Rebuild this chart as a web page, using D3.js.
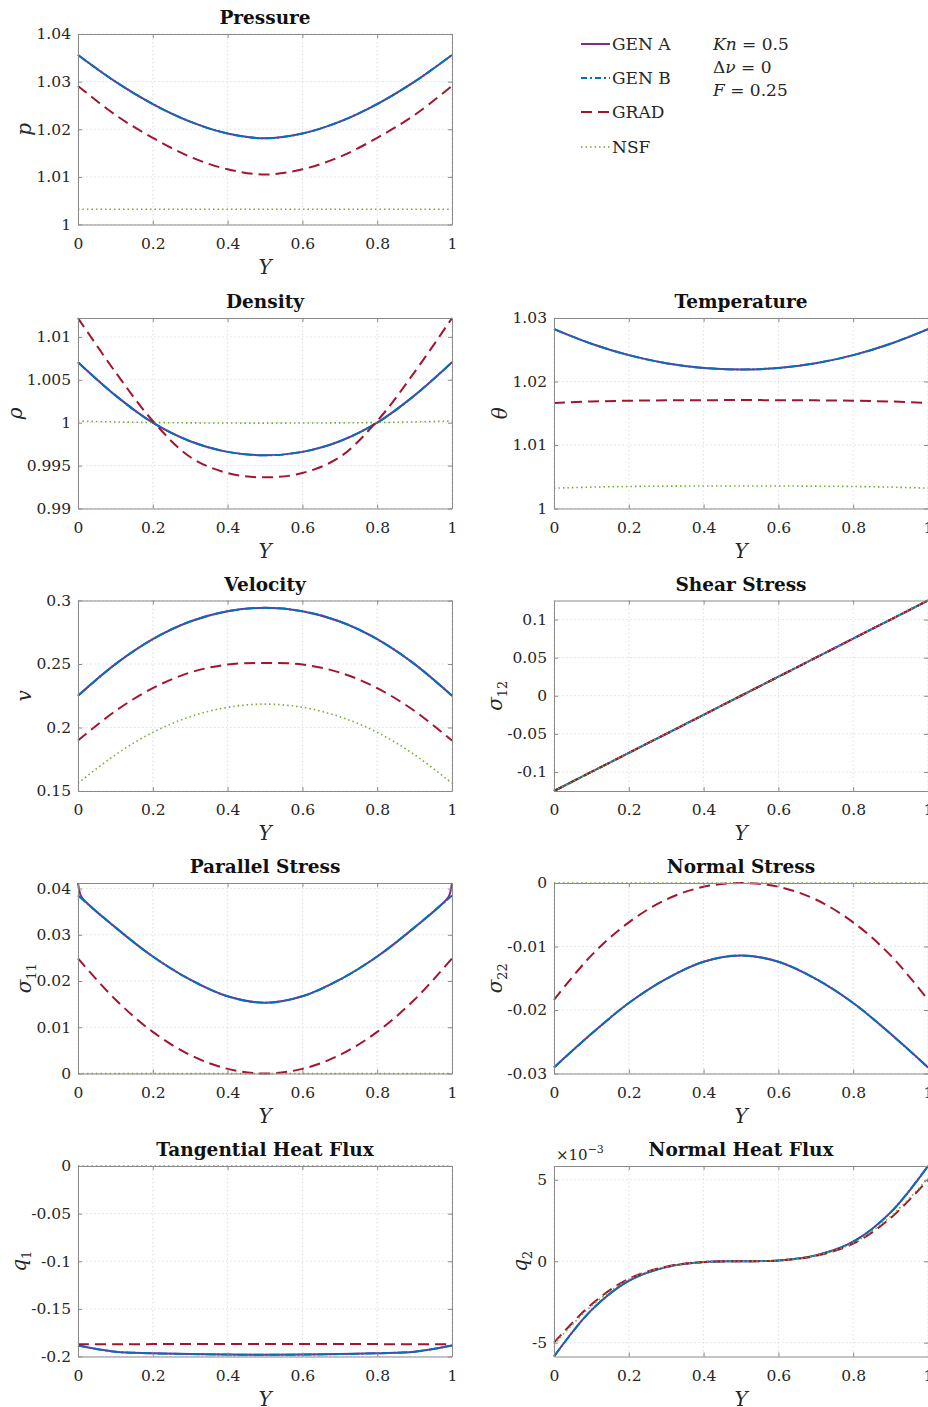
<!DOCTYPE html>
<html><head><meta charset="utf-8">
<script src="https://cdn.jsdelivr.net/npm/d3@7"></script>
<style>body{margin:0;background:#fff} svg{display:block}</style>
</head><body><svg id="c" width="928" height="1407"></svg>
<script>
// ---------------- DATA ----------------
const Ygrid = [0,0.1,0.2,0.3,0.4,0.5,0.6,0.7,0.8,0.9,1];
const YwallGrid = [0,0.004,0.01,0.1,0.2,0.3,0.4,0.5,0.6,0.7,0.8,0.9,0.99,0.996,1];
const xTicks = [0,0.2,0.4,0.6,0.8,1];
const xTickLabels = ["0","0.2","0.4","0.6","0.8","1"];
const seriesNames = ["GEN A","GEN B","GRAD","NSF"];

// Pressure
const pressureGenA = [1.0356,1.0300,1.0253,1.0216,1.0191,1.0181,1.0191,1.0216,1.0253,1.0300,1.0356];
const pressureGenB = [1.0356,1.0300,1.0253,1.0216,1.0191,1.0181,1.0191,1.0216,1.0253,1.0300,1.0356];
const pressureGrad = [1.0291,1.0230,1.0182,1.0142,1.0116,1.0105,1.0116,1.0142,1.0182,1.0230,1.0291];
const pressureNsf  = [1.0032,1.0032,1.0032,1.0032,1.0032,1.0032,1.0032,1.0032,1.0032,1.0032,1.0032];
const pressureTicks = [1,1.01,1.02,1.03,1.04];
const pressureTickLabels = ["1","1.01","1.02","1.03","1.04"];

// Density
const densityGenA = [1.00704,1.00318,1.00000,0.99784,0.99660,0.99620,0.99660,0.99784,1.00000,1.00318,1.00704];
const densityGenB = [1.00704,1.00318,1.00000,0.99784,0.99660,0.99620,0.99660,0.99784,1.00000,1.00318,1.00704];
const densityGrad = [1.01219,1.00590,1.00020,0.99600,0.99413,0.99363,0.99413,0.99600,1.00020,1.00590,1.01219];
const densityNsf  = [1.00020,1.00009,1.00002,0.99998,0.99996,0.99995,0.99996,0.99998,1.00002,1.00009,1.00020];
const densityTicks = [0.99,0.995,1,1.005,1.01];
const densityTickLabels = ["0.99","0.995","1","1.005","1.01"];

// Temperature
const temperatureGenA = [1.02826,1.02595,1.02415,1.02288,1.02213,1.02190,1.02213,1.02288,1.02415,1.02595,1.02826];
const temperatureGenB = [1.02826,1.02595,1.02415,1.02288,1.02213,1.02190,1.02213,1.02288,1.02415,1.02595,1.02826];
const temperatureGrad = [1.01663,1.01685,1.01697,1.01703,1.01706,1.01707,1.01706,1.01703,1.01697,1.01685,1.01663];
const temperatureNsf  = [1.00320,1.00337,1.00347,1.00352,1.00354,1.00355,1.00354,1.00352,1.00347,1.00337,1.00320];
const temperatureTicks = [1,1.01,1.02,1.03];
const temperatureTickLabels = ["1","1.01","1.02","1.03"];

// Velocity
const velocityGenA = [0.2250,0.2499,0.2696,0.2835,0.2916,0.2942,0.2916,0.2835,0.2696,0.2499,0.2250];
const velocityGenB = [0.2250,0.2499,0.2696,0.2835,0.2916,0.2942,0.2916,0.2835,0.2696,0.2499,0.2250];
const velocityGrad = [0.1897,0.2130,0.2310,0.2433,0.2496,0.2508,0.2496,0.2433,0.2310,0.2130,0.1897];
const velocityNsf  = [0.1561,0.1785,0.1962,0.2085,0.2159,0.2184,0.2159,0.2085,0.1962,0.1785,0.1561];
const velocityTicks = [0.15,0.2,0.25,0.3];
const velocityTickLabels = ["0.15","0.2","0.25","0.3"];

// Shear stress
const shearGenA = [-0.125,-0.1,-0.075,-0.05,-0.025,0,0.025,0.05,0.075,0.1,0.125];
const shearGenB = [-0.125,-0.1,-0.075,-0.05,-0.025,0,0.025,0.05,0.075,0.1,0.125];
const shearGrad = [-0.125,-0.1,-0.075,-0.05,-0.025,0,0.025,0.05,0.075,0.1,0.125];
const shearNsf  = [-0.125,-0.1,-0.075,-0.05,-0.025,0,0.025,0.05,0.075,0.1,0.125];
const shearTicks = [-0.1,-0.05,0,0.05,0.1];
const shearTickLabels = ["-0.1","-0.05","0","0.05","0.1"];

// Parallel stress (GEN A sampled on YwallGrid)
const parallelGenA = [0.0412,0.0394,0.0381,0.0316,0.0253,0.0203,0.0167,0.0153,0.0167,0.0203,0.0253,0.0316,0.0381,0.0394,0.0412];
const parallelGenB = [0.0385,0.0316,0.0253,0.0203,0.0167,0.0153,0.0167,0.0203,0.0253,0.0316,0.0385];
const parallelGrad = [0.0249,0.0160,0.0090,0.0040,0.0010,0.0000,0.0010,0.0040,0.0090,0.0160,0.0249];
const parallelNsf  = [0,0,0,0,0,0,0,0,0,0,0];
const parallelTicks = [0,0.01,0.02,0.03,0.04];
const parallelTickLabels = ["0","0.01","0.02","0.03","0.04"];

// Normal stress
const normalGenA = [-0.02905,-0.02375,-0.0189,-0.0151,-0.0124,-0.01142,-0.0124,-0.0151,-0.0189,-0.02375,-0.02905];
const normalGenB = [-0.02905,-0.02375,-0.0189,-0.0151,-0.0124,-0.01142,-0.0124,-0.0151,-0.0189,-0.02375,-0.02905];
const normalGrad = [-0.0184,-0.0114,-0.0062,-0.0026,-0.0006,0,-0.0006,-0.0026,-0.0062,-0.0114,-0.0184];
const normalNsf  = [0,0,0,0,0,0,0,0,0,0,0];
const normalTicks = [-0.03,-0.02,-0.01,0];
const normalTickLabels = ["-0.03","-0.02","-0.01","0"];

// Tangential heat flux
const tangHeatGenA = [-0.1885,-0.1950,-0.1966,-0.1975,-0.1980,-0.1981,-0.1980,-0.1975,-0.1966,-0.1950,-0.1885];
const tangHeatGenB = [-0.1885,-0.1950,-0.1966,-0.1975,-0.1980,-0.1981,-0.1980,-0.1975,-0.1966,-0.1950,-0.1885];
const tangHeatGrad = [-0.1872,-0.1871,-0.1870,-0.1870,-0.1869,-0.1869,-0.1869,-0.1870,-0.1870,-0.1871,-0.1872];
const tangHeatNsf  = [0,0,0,0,0,0,0,0,0,0,0];
const tangHeatTicks = [-0.2,-0.15,-0.1,-0.05,0];
const tangHeatTickLabels = ["-0.2","-0.15","-0.1","-0.05","0"];

// Normal heat flux
const normHeatGenA = [-0.00585,-0.0030,-0.0012,-0.00036,-0.00005,0,0.00005,0.00036,0.0012,0.0030,0.00585];
const normHeatGenB = [-0.00585,-0.0030,-0.0012,-0.00036,-0.00005,0,0.00005,0.00036,0.0012,0.0030,0.00585];
const normHeatGrad = [-0.0050,-0.00265,-0.00108,-0.00033,-0.000045,0,0.000045,0.00033,0.00108,0.00265,0.0050];
const normHeatNsf  = [-0.0051,-0.00275,-0.00112,-0.00034,-0.000046,0,0.000046,0.00034,0.00112,0.00275,0.0051];
const normHeatTicks = [-0.005,0,0.005];
const normHeatTickLabels = ["-5","0","5"];

// ---------------- LAYOUT / STYLE ----------------
const FONT = "'DejaVu Serif', serif";
const TXT = "#262626";
const colX = [[78,452],[554,928]];
const rowTop = [34,318,600.5,883,1166];
const plotH = 190.5;
const styles = [
  {color:"#7E2F8E", dash:null, w:2},
  {color:"#0072BD", dash:"10,2,2,2", w:2},
  {color:"#A2142F", dash:"11,6", w:2},
  {color:"#77AC30", dash:"1.5,3", w:1.6}
];

const panels = [
  {title:"Pressure", col:0,row:0, ylab:[["p","i"]], dom:[1,1.04], ticks:pressureTicks, tl:pressureTickLabels,
    series:[[Ygrid,pressureGenA],[Ygrid,pressureGenB],[Ygrid,pressureGrad],[Ygrid,pressureNsf]]},
  {title:"Density", col:0,row:1, ylab:[["ρ","i"]], dom:[0.99,1.0122], ticks:densityTicks, tl:densityTickLabels,
    series:[[Ygrid,densityGenA],[Ygrid,densityGenB],[Ygrid,densityGrad],[Ygrid,densityNsf]]},
  {title:"Temperature", col:1,row:1, ylab:[["θ","i"]], dom:[1,1.03], ticks:temperatureTicks, tl:temperatureTickLabels,
    series:[[Ygrid,temperatureGenA],[Ygrid,temperatureGenB],[Ygrid,temperatureGrad],[Ygrid,temperatureNsf]]},
  {title:"Velocity", col:0,row:2, ylab:[["v","i"]], dom:[0.15,0.3], ticks:velocityTicks, tl:velocityTickLabels,
    series:[[Ygrid,velocityGenA],[Ygrid,velocityGenB],[Ygrid,velocityGrad],[Ygrid,velocityNsf]]},
  {title:"Shear Stress", col:1,row:2, ylab:[["σ","i"],["12","s"]], dom:[-0.125,0.125], ticks:shearTicks, tl:shearTickLabels,
    series:[[Ygrid,shearGenA],[Ygrid,shearGenB],[Ygrid,shearGrad],[Ygrid,shearNsf]]},
  {title:"Parallel Stress", col:0,row:3, ylab:[["σ","i"],["11","s"]], dom:[0,0.0412], ticks:parallelTicks, tl:parallelTickLabels,
    series:[[YwallGrid,parallelGenA],[Ygrid,parallelGenB],[Ygrid,parallelGrad],[Ygrid,parallelNsf]]},
  {title:"Normal Stress", col:1,row:3, ylab:[["σ","i"],["22","s"]], dom:[-0.03,0], ticks:normalTicks, tl:normalTickLabels,
    series:[[Ygrid,normalGenA],[Ygrid,normalGenB],[Ygrid,normalGrad],[Ygrid,normalNsf]]},
  {title:"Tangential Heat Flux", col:0,row:4, ylab:[["q","i"],["1","s"]], dom:[-0.2,0], ticks:tangHeatTicks, tl:tangHeatTickLabels,
    series:[[Ygrid,tangHeatGenA],[Ygrid,tangHeatGenB],[Ygrid,tangHeatGrad],[Ygrid,tangHeatNsf]]},
  {title:"Normal Heat Flux", col:1,row:4, ylab:[["q","i"],["2","s"]], dom:[-0.00585,0.00585], ticks:normHeatTicks, tl:normHeatTickLabels,
    exponent:"−3",
    series:[[Ygrid,normHeatGenA],[Ygrid,normHeatGenB],[Ygrid,normHeatGrad],[Ygrid,normHeatNsf]]}
];

const svg = d3.select("#c");
svg.append("rect").attr("width",928).attr("height",1407).attr("fill","#fff");
const defs = svg.append("defs");

panels.forEach((p,pi)=>{
  const [x0,x1] = colX[p.col];
  const top = rowTop[p.row], bottom = top + plotH;
  const x = d3.scaleLinear().domain([0,1]).range([x0,x1]);
  const y = d3.scaleLinear().domain(p.dom).range([bottom,top]);
  const g = svg.append("g");

  // grid
  const grid = g.append("g").attr("stroke","#d6d6d6").attr("stroke-width",0.8).attr("stroke-dasharray","1.5,2.5");
  grid.selectAll(".gx").data(xTicks).join("line").attr("x1",d=>x(d)).attr("x2",d=>x(d)).attr("y1",top).attr("y2",bottom);
  grid.selectAll(".gy").data(p.ticks).join("line").attr("x1",x0).attr("x2",x1).attr("y1",d=>y(d)).attr("y2",d=>y(d));

  // clip
  defs.append("clipPath").attr("id","clip"+pi).append("rect")
    .attr("x",x0-2).attr("y",top-1.5).attr("width",x1-x0+4).attr("height",plotH+3);
  const lines = g.append("g").attr("clip-path",`url(#clip${pi})`);
  const line = d3.line().x(d=>x(d[0])).y(d=>y(d[1])).curve(d3.curveCatmullRom.alpha(0.5));
  p.series.forEach((s,si)=>{
    const st = styles[si];
    const pts = s[0].map((yy,i)=>[yy,s[1][i]]);
    lines.append("path").datum(pts).attr("d",line).attr("fill","none")
      .attr("stroke",st.color).attr("stroke-width",st.w)
      .attr("stroke-dasharray",st.dash).attr("stroke-linejoin","round");
  });

  // axes
  const tf = d=>p.tl[p.ticks.indexOf(d)];
  const xtf = d=>xTickLabels[xTicks.indexOf(d)];
  const axB = g.append("g").attr("transform",`translate(0,${bottom})`)
    .call(d3.axisBottom(x).tickValues(xTicks).tickFormat(xtf).tickSize(-4).tickSizeOuter(0).tickPadding(13));
  const axT = g.append("g").attr("transform",`translate(0,${top})`)
    .call(d3.axisTop(x).tickValues(xTicks).tickFormat("").tickSize(-4).tickSizeOuter(0));
  const axL = g.append("g").attr("transform",`translate(${x0},0)`)
    .call(d3.axisLeft(y).tickValues(p.ticks).tickFormat(tf).tickSize(-4).tickSizeOuter(0).tickPadding(7));
  const axR = g.append("g").attr("transform",`translate(${x1},0)`)
    .call(d3.axisRight(y).tickValues(p.ticks).tickFormat("").tickSize(-4).tickSizeOuter(0));
  [axB,axT,axL,axR].forEach(a=>{
    a.selectAll("path.domain").attr("stroke","#8a8a8a").attr("stroke-width",1);
    a.selectAll(".tick line").attr("stroke","#8a8a8a").attr("stroke-width",1);
    a.selectAll("text").attr("font-family",FONT).attr("font-size",15.5).attr("fill",TXT);
  });
  axB.selectAll("text").attr("dy","0.71em");

  // max tick label width
  let maxW = 0;
  axL.selectAll("text").each(function(){ maxW = Math.max(maxW,this.getBBox().width); });

  // title
  g.append("text").attr("x",(x0+x1)/2).attr("y",top-10).attr("text-anchor","middle")
    .attr("font-family",FONT).attr("font-weight","bold").attr("font-size",18.5).attr("fill","#111")
    .text(p.title);

  // x label
  g.append("text").attr("x",(x0+x1)/2).attr("y",bottom+49).attr("text-anchor","middle")
    .attr("font-family",FONT).attr("font-style","italic").attr("font-size",20).attr("fill",TXT).text("Y");

  // y label
  const lx = x0 - 7 - maxW - 5;
  const yl = g.append("text").attr("transform",`translate(${lx},${(top+bottom)/2}) rotate(-90)`)
    .attr("text-anchor","middle").attr("font-family",FONT).attr("font-size",20).attr("fill",TXT);
  p.ylab.forEach(([t,k])=>{
    if(k==="i") yl.append("tspan").attr("font-style","italic").text(t);
    else yl.append("tspan").attr("font-size",13).attr("dy",5).text(t);
  });

  if(p.exponent){
    const ex = g.append("text").attr("x",x0+2).attr("y",top-6).attr("font-family",FONT)
      .attr("font-size",15).attr("fill",TXT);
    ex.append("tspan").text("×10");
    ex.append("tspan").attr("font-size",11).attr("dy",-7).text(p.exponent);
  }
});

// legend
const lg = svg.append("g");
const legY = [44,78,112,147];
seriesNames.forEach((n,i)=>{
  const st = styles[i];
  lg.append("line").attr("x1",581).attr("x2",610).attr("y1",legY[i]).attr("y2",legY[i])
    .attr("stroke",st.color).attr("stroke-width",st.w).attr("stroke-dasharray",i===1?"6,3,2,3":st.dash);
  lg.append("text").attr("x",612).attr("y",legY[i]).attr("dy","0.36em")
    .attr("font-family",FONT).attr("font-size",17).attr("fill",TXT).text(n);
});

// annotation
const annot = [
  [["Kn","i"],[" = 0.5","n"]],
  [["Δ","n"],["ν","i"],[" = 0","n"]],
  [["F","i"],[" = 0.25","n"]]
];
const annY = [44,67,90];
annot.forEach((parts,i)=>{
  const t = svg.append("text").attr("x",713).attr("y",annY[i]).attr("dy","0.36em")
    .attr("font-family",FONT).attr("font-size",17).attr("fill",TXT);
  parts.forEach(([s,k])=>{
    const ts = t.append("tspan").text(s);
    if(k==="i") ts.attr("font-style","italic");
  });
});
</script>
</body></html>
